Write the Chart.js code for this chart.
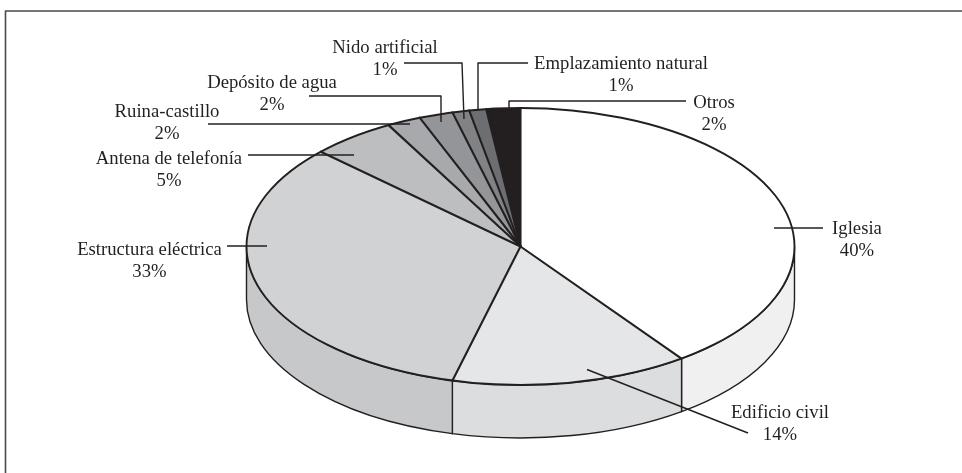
<!DOCTYPE html>
<html lang="es">
<head>
<meta charset="utf-8">
<title>Emplazamientos</title>
<style>html,body{margin:0;padding:0;background:#fff}canvas{display:block}</style>
<script src="https://cdn.jsdelivr.net/npm/chart.js@4"></script>
</head>
<body>
<canvas id="c" width="962" height="473"></canvas>
<script>
const categories = ['Iglesia','Edificio civil','Estructura eléctrica','Antena de telefonía','Ruina-castillo','Depósito de agua','Nido artificial','Emplazamiento natural','Otros'];
const shares = [40,14,33,5,2,2,1,1,2];
const topColors = ['#ffffff','#e5e6e8','#d1d2d4','#bcbec0','#a7a9ac','#939598','#808285','#6d6e71','#231f20'];
const wallColors = ['#f0f0f1','#dcddde','#c7c8ca','#bcbec0','#a7a9ac','#939598','#808285','#6d6e71','#231f20'];

// presentation
const SQUASH = 0.5055, DEPTH = 53, INK = '#231f20';
const labelAnchors = [[857,234],[780,418],[149.5,255],[169,164],[167,117],[272,88],[385,53],[621,69],[714,108]];
const leaders = [
  [[774,228],[823,228]],
  [[587,369.5],[748,433]],
  [[227,246],[267,246]],
  [[248,155],[354,155]],
  [[208,124],[410,124]],
  [[309,96],[441,96],[441,122]],
  [[404,63],[462,63],[464,119]],
  [[528,63],[478,63],[478,110]],
  [[686,101],[509,101],[509,108]]
];

const pie3d = {
  id: 'pie3d',
  beforeDatasetsDraw(chart) {
    const ctx = chart.ctx, arcs = chart.getDatasetMeta(0).data;
    const {x: cx, y: cy, outerRadius: r} = arcs[0];
    const ry = r * SQUASH;
    ctx.save();
    ctx.strokeStyle = INK;
    arcs.forEach((arc, i) => {
      const a0 = Math.max(arc.startAngle, 0), a1 = Math.min(arc.endAngle, Math.PI);
      if (a1 <= a0) return;
      ctx.beginPath();
      ctx.ellipse(cx, cy, r, ry, 0, a0, a1);
      ctx.ellipse(cx, cy + DEPTH, r, ry, 0, a1, a0, true);
      ctx.closePath();
      ctx.fillStyle = wallColors[i];
      ctx.fill();
      ctx.lineWidth = 1.4;
      ctx.stroke();
    });
    ctx.restore();
    ctx.save();
    ctx.translate(0, cy);
    ctx.scale(1, SQUASH);
    ctx.translate(0, -cy);
  },
  afterDatasetsDraw(chart) {
    const ctx = chart.ctx, arcs = chart.getDatasetMeta(0).data;
    ctx.restore();
    const {x: cx, y: cy, outerRadius: r} = arcs[0];
    const ry = r * SQUASH;
    ctx.save();
    ctx.strokeStyle = INK;
    ctx.lineCap = 'round';
    ctx.lineJoin = 'round';
    ctx.lineWidth = 2.1;
    arcs.forEach(arc => {
      ctx.beginPath();
      ctx.moveTo(cx, cy);
      ctx.lineTo(cx + r * Math.cos(arc.startAngle), cy + ry * Math.sin(arc.startAngle));
      ctx.stroke();
    });
    ctx.lineWidth = 1.9;
    ctx.beginPath();
    ctx.ellipse(cx, cy, r, ry, 0, 0, Math.PI * 2);
    ctx.stroke();

    ctx.lineCap = 'butt';
    ctx.lineWidth = 1.4;
    leaders.forEach(pts => {
      ctx.beginPath();
      pts.forEach((p, k) => k ? ctx.lineTo(p[0], p[1]) : ctx.moveTo(p[0], p[1]));
      ctx.stroke();
    });

    // frame (top and left edges only)
    ctx.strokeStyle = '#4a4a4a';
    ctx.lineWidth = 1.6;
    ctx.beginPath();
    ctx.moveTo(5.5, 473);
    ctx.lineTo(5.5, 11);
    ctx.lineTo(962, 11);
    ctx.stroke();

    ctx.fillStyle = INK;
    ctx.font = '18.7px "Liberation Serif"';
    ctx.textAlign = 'center';
    ctx.textBaseline = 'alphabetic';
    categories.forEach((name, i) => {
      const [x, y] = labelAnchors[i];
      ctx.fillText(name, x, y);
      ctx.fillText(shares[i] + '%', x, y + 21.5);
    });
    ctx.restore();
  }
};

new Chart(document.getElementById('c'), {
  type: 'pie',
  data: {
    labels: categories,
    datasets: [{ data: shares, backgroundColor: topColors, borderWidth: 0, clip: false }]
  },
  options: {
    responsive: false,
    animation: false,
    radius: 274,
    layout: { padding: { left: 79, top: 20 } },
    plugins: { legend: { display: false }, tooltip: { enabled: false } }
  },
  plugins: [pie3d]
});
</script>
</body>
</html>
